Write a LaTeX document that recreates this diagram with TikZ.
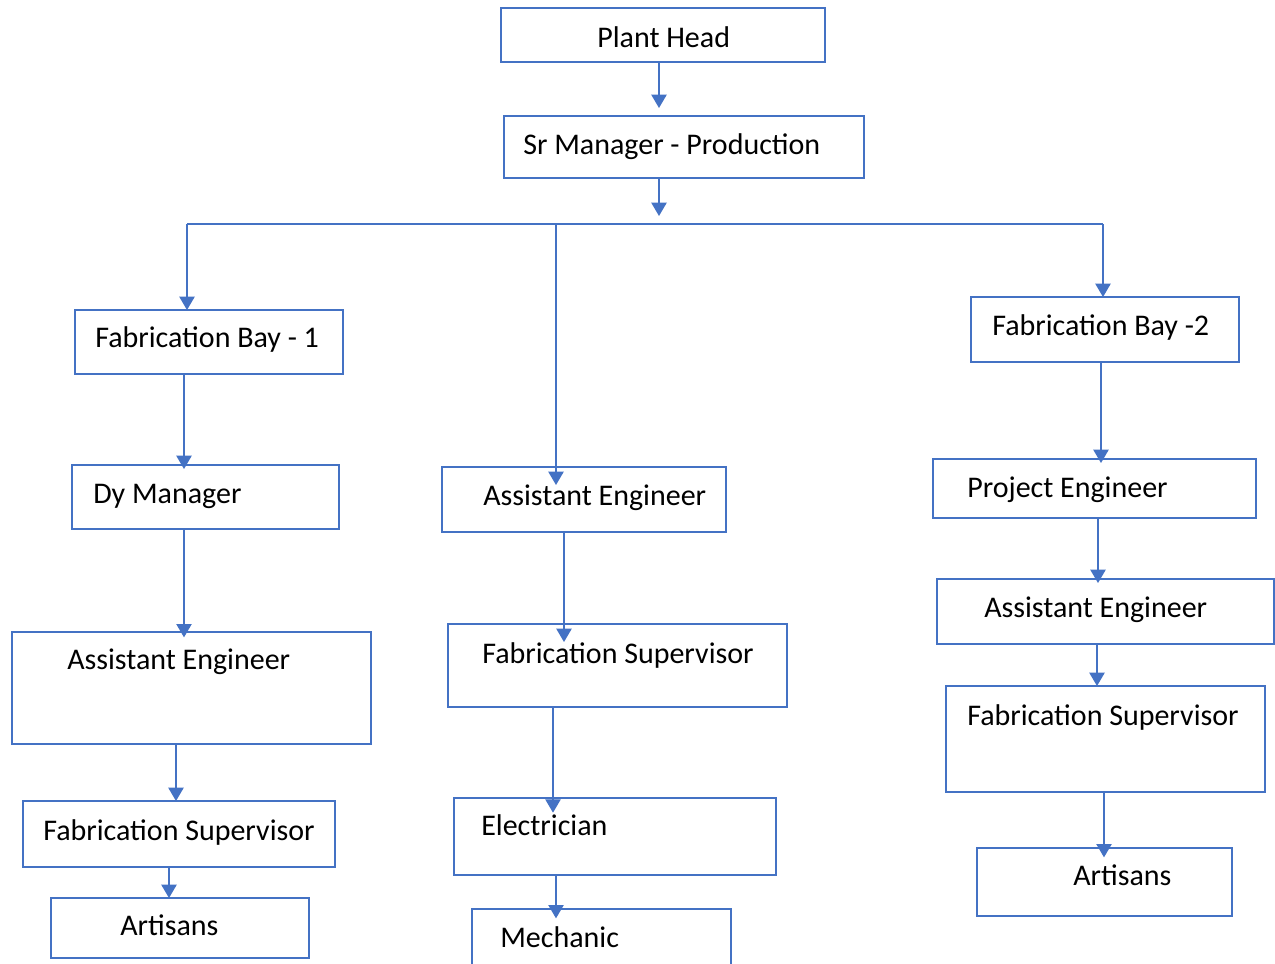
\documentclass[tikz,border=0pt]{standalone}
\usepackage{fontspec}
\setmainfont{Carlito}
\usetikzlibrary{arrows.meta}
\definecolor{boxblue}{HTML}{4472C4}
\definecolor{lineblue}{HTML}{4472C4}
\tikzset{
  orgbox/.style={draw=boxblue, line width=1.9pt, fill=none, inner sep=0pt, outer sep=0pt, rectangle},
  lbl/.style={anchor=base west, inner sep=0pt, font=\fontsize{22.5pt}{26pt}\selectfont, text=black},
  conn/.style={draw=lineblue, line width=0.95pt, -{Triangle[width=11.5pt,length=10pt]}},
  busline/.style={draw=lineblue, line width=0.95pt}
}
\newcommand\obox[5]{\node[orgbox, minimum width={(#4-#2)*0.75pt}, minimum height={(#5-#3)*0.75pt}] (#1) at ({(#2+#4)/2},{(#3+#5)/2}) {};}
\begin{document}
\begin{tikzpicture}[x=0.75pt,y=-0.75pt]
\useasboundingbox (0,0) rectangle (1275,964);
% boxes
\obox{ph}{501}{8}{825}{62}
\obox{sm}{504}{116}{864}{178}
\obox{fb1}{75}{310}{343}{374}
\obox{fb2}{971}{297}{1239}{362}
\obox{dm}{72}{465}{339}{529}
\obox{ae2}{442}{467}{726}{532}
\obox{pe}{933}{459}{1256}{518}
\obox{ae1}{12}{632}{371}{744}
\obox{fs2}{448}{624}{787}{707}
\obox{ae3}{937}{579}{1274}{644}
\obox{fs1}{23}{801}{335}{867}
\obox{el}{454}{798}{776}{875}
\obox{fs3}{946}{686}{1265}{792}
\obox{ar1}{51}{898}{309}{958}
\obox{me}{472}{909}{731}{990}
\obox{ar3}{977}{848}{1232}{916}
% labels
\node[lbl] (t-ph) at (597,47) {Plant Head};
\node[lbl] (t-sm) at (523,154) {Sr Manager - Production};
\node[lbl] (t-fb1) at (95,347) {Fabrication Bay - 1};
\node[lbl] (t-fb2) at (992,335) {Fabrication Bay -2};
\node[lbl] (t-dm) at (93,503) {Dy Manager};
\node[lbl] (t-ae2) at (483,505) {Assistant Engineer};
\node[lbl] (t-pe) at (967,497) {Project Engineer};
\node[lbl] (t-ae1) at (67,669) {Assistant Engineer};
\node[lbl] (t-fs2) at (482,663) {Fabrication Supervisor};
\node[lbl] (t-ae3) at (984,617) {Assistant Engineer};
\node[lbl] (t-fs1) at (43,840) {Fabrication Supervisor};
\node[lbl] (t-el) at (481,835) {Electrician};
\node[lbl] (t-fs3) at (967,725) {Fabrication Supervisor};
\node[lbl] (t-ar1) at (120,935) {Artisans};
\node[lbl] (t-me) at (500,947) {Mechanic};
\node[lbl] (t-ar3) at (1073,885) {Artisans};
% columns and bus
\coordinate (c659) at (659,0);
\coordinate (jn) at (659,224);
\coordinate (b1) at (187,224);
\coordinate (bm) at (556,224);
\coordinate (b2) at (1103,224);
\coordinate (c184) at (184,0);
\coordinate (c176) at (176,0);
\coordinate (c169) at (169,0);
\coordinate (c564) at (564,0);
\coordinate (c553) at (553,0);
\coordinate (c556) at (556,0);
\coordinate (c1101) at (1101,0);
\coordinate (c1098) at (1098,0);
\coordinate (c1097) at (1097,0);
\coordinate (c1104) at (1104,0);
% connectors
\draw[conn, shorten >=6pt] (ph.south -| c659) -- (sm.north -| c659);
\draw[conn, shorten >=6pt] (sm.south -| c659) -- (jn);
\draw[busline] (b1) -- (b2);
\draw[conn] (b1) -- (fb1.north -| b1);
\draw[conn, shorten >=-13.5pt] (bm) -- (ae2.north -| bm);
\draw[conn] (b2) -- (fb2.north -| b2);
\draw[conn, shorten >=-3pt] (fb1.south -| c184) -- (dm.north -| c184);
\draw[conn, shorten >=-4pt] (dm.south -| c184) -- (ae1.north -| c184);
\draw[conn] (ae1.south -| c176) -- (fs1.north -| c176);
\draw[conn] (fs1.south -| c169) -- (ar1.north -| c169);
\draw[conn, shorten >=-13.5pt] (ae2.south -| c564) -- (fs2.north -| c564);
\draw[conn, shorten >=-11pt] (fs2.south -| c553) -- (el.north -| c553);
\draw[conn, shorten >=-7pt] (el.south -| c556) -- (me.north -| c556);
\draw[conn, shorten >=-3pt] (fb2.south -| c1101) -- (pe.north -| c1101);
\draw[conn, shorten >=-3pt] (pe.south -| c1098) -- (ae3.north -| c1098);
\draw[conn] (ae3.south -| c1097) -- (fs3.north -| c1097);
\draw[conn, shorten >=-7pt] (fs3.south -| c1104) -- (ar3.north -| c1104);
\end{tikzpicture}
\end{document}
